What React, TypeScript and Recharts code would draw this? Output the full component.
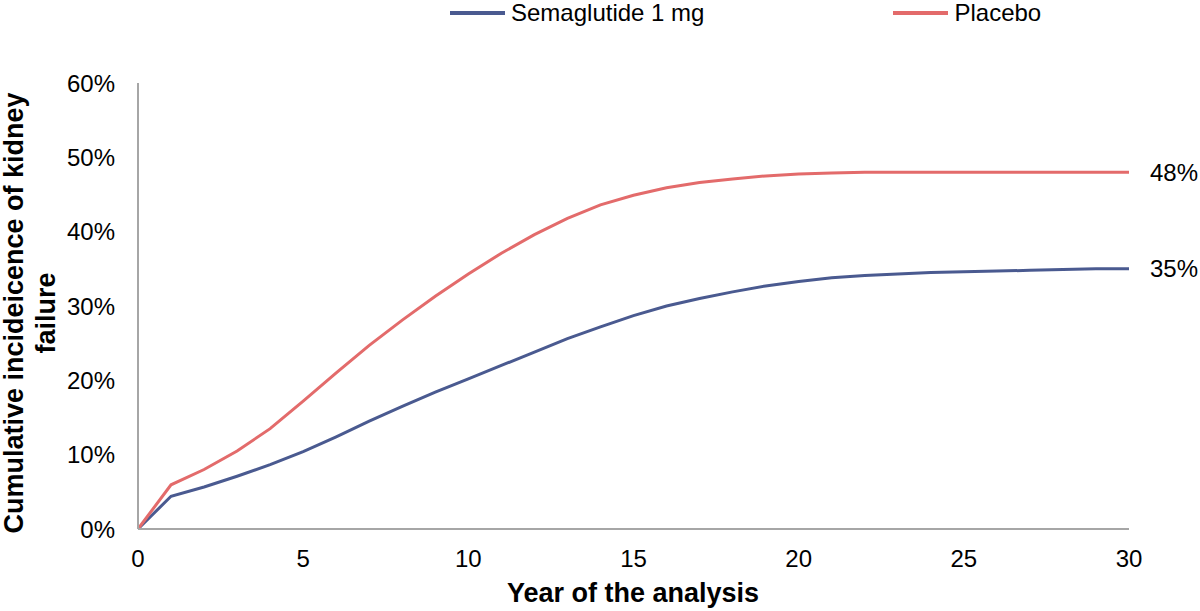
import React from 'react';
import { LineChart, Line, XAxis, YAxis, Legend, LabelList } from 'recharts';

const years = [0, 1, 2, 3, 4, 5, 6, 7, 8, 9, 10, 11, 12, 13, 14, 15, 16, 17, 18, 19, 20, 21, 22, 23, 24, 25, 26, 27, 28, 29, 30];
const semaglutide = [0, 4.4, 5.65, 7.1, 8.65, 10.4, 12.4, 14.5, 16.5, 18.4, 20.2, 22.0, 23.8, 25.6, 27.2, 28.7, 30.0, 31.0, 31.9, 32.7, 33.3, 33.8, 34.1, 34.3, 34.5, 34.6, 34.7, 34.8, 34.9, 35.0, 35.0];
const placebo = [0, 5.95, 8.0, 10.5, 13.5, 17.2, 21.0, 24.7, 28.1, 31.3, 34.3, 37.1, 39.6, 41.8, 43.6, 44.9, 45.9, 46.6, 47.1, 47.5, 47.75, 47.9, 48.0, 48.0, 48.0, 48.0, 48.0, 48.0, 48.0, 48.0, 48.0];
const xTicks = [0, 5, 10, 15, 20, 25, 30];
const yTicks = [0, 10, 20, 30, 40, 50, 60];
const seriesNames = ['Semaglutide 1 mg', 'Placebo'];
const endLabels = ['35%', '48%'];

const data = years.map((y, i) => ({ year: y, sema: semaglutide[i], placebo: placebo[i] }));

const FONT = '"Liberation Sans", Arial, sans-serif';
const BLUE = '#4A5A90';
const RED = '#E36B6B';
const AXIS = '#A6A6A6';

const makeEndLabel = (text: string) => (props: any) => {
  const { x, y, index } = props;
  if (index !== years.length - 1) return null;
  return (
    <text x={x + 21} y={y} dy="0.35em" textAnchor="start" fontSize={24} fontFamily={FONT} fill="#000">
      {text}
    </text>
  );
};

const LegendContent = (props: any) => {
  const payload = [...(props.payload || [])].sort(
    (a: any, b: any) => seriesNames.indexOf(a.value) - seriesNames.indexOf(b.value)
  );
  return (
    <div style={{ display: 'flex', alignItems: 'center', paddingLeft: 450, fontFamily: FONT, fontSize: 24, lineHeight: '26px', color: '#000' }}>
      {payload.map((p: any, i: number) => (
        <div key={i} style={{ display: 'flex', alignItems: 'center', marginRight: i === 0 ? 189 : 0 }}>
          <div style={{ width: 55, height: 4, background: p.color, marginRight: 6 }} />
          <span>{p.value}</span>
        </div>
      ))}
    </div>
  );
};

const YTitle = () => (
  <g>
    <text
      x={23}
      y={313}
      textAnchor="middle"
      fontSize={27}
      fontWeight="bold"
      fontFamily={FONT}
      fill="#000"
      transform="rotate(-90, 23, 313)"
    >
      Cumulative incideicence of kidney
    </text>
    <text
      x={55}
      y={313}
      textAnchor="middle"
      fontSize={27}
      fontWeight="bold"
      fontFamily={FONT}
      fill="#000"
      transform="rotate(-90, 55, 313)"
    >
      failure
    </text>
  </g>
);

const XTitle = () => (
  <text x={633} y={602} textAnchor="middle" fontSize={27} fontWeight="bold" fontFamily={FONT} fill="#000">
    Year of the analysis
  </text>
);

export default function App() {
  return (
    <div style={{ position: 'absolute', left: 0, top: 0, width: 1200, height: 611, background: '#fff' }}>
      <LineChart width={1200} height={611} data={data} margin={{ top: 83, right: 71, bottom: 32, left: 1 }}>
        <XAxis
          dataKey="year"
          type="number"
          domain={[0, 30]}
          ticks={xTicks}
          interval={0}
          height={50}
          tickLine={false}
          tickSize={0}
          tickMargin={21}
          axisLine={{ stroke: AXIS, strokeWidth: 2 }}
          tick={{ fontSize: 24, fontFamily: FONT, fill: '#000' }}
          label={{ content: () => <XTitle /> }}
        />
        <YAxis
          type="number"
          domain={[0, 60]}
          ticks={yTicks}
          interval={0}
          width={137}
          tickLine={false}
          tickSize={0}
          tickMargin={23}
          tickFormatter={(v: number) => `${v}%`}
          axisLine={{ stroke: AXIS, strokeWidth: 2 }}
          tick={{ fontSize: 24, fontFamily: FONT, fill: '#000' }}
          label={{ content: () => <YTitle /> }}
        />
        <Legend
          layout="horizontal"
          verticalAlign="middle"
          align="center"
          wrapperStyle={{ top: 0, left: 0, width: 1200 }}
          content={<LegendContent />}
        />
        <Line
          dataKey="sema"
          name={seriesNames[0]}
          stroke={BLUE}
          strokeWidth={3}
          dot={false}
          type="linear"
          isAnimationActive={false}
        >
          <LabelList dataKey="sema" content={makeEndLabel(endLabels[0])} />
        </Line>
        <Line
          dataKey="placebo"
          name={seriesNames[1]}
          stroke={RED}
          strokeWidth={3}
          dot={false}
          type="linear"
          isAnimationActive={false}
        >
          <LabelList dataKey="placebo" content={makeEndLabel(endLabels[1])} />
        </Line>
      </LineChart>
    </div>
  );
}
